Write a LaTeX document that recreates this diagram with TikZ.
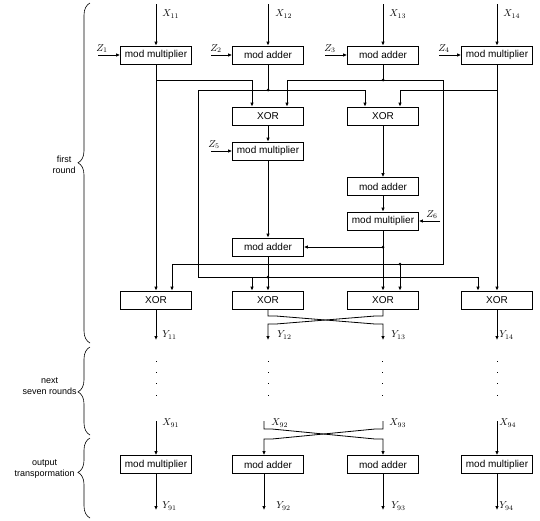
\documentclass[tikz,border=0pt]{standalone}
\usepackage{fontspec}
\newfontfamily\boxfont{Liberation Sans}
\usetikzlibrary{arrows.meta,decorations.pathreplacing}
\begin{document}
\begin{tikzpicture}[x=1pt,y=-1pt,line width=0.8pt,
  blk/.style={draw,minimum width=71pt,minimum height=18pt,inner sep=0pt,font=\boxfont\fontsize{10}{11}\selectfont},
  ar/.style={-{Latex[length=4pt,width=3.6pt]}},
  lab/.style={inner sep=0pt,anchor=west,font=\fontsize{10}{12}\selectfont},
  zlab/.style={inner sep=0pt,anchor=south west,font=\fontsize{10}{12}\selectfont},
  jdot/.style={circle,fill,inner sep=0pt,minimum size=3pt},
  side/.style={align=center,anchor=east,font=\boxfont\fontsize{9}{11}\selectfont,inner sep=0pt}]
\useasboundingbox (0,0) rectangle (540,520);

% ---------- round 1 boxes
\node[blk] (m1) at (156,55) {mod multiplier};
\node[blk] (a2) at (268,55) {mod adder};
\node[blk] (a3) at (383,55) {mod adder};
\node[blk] (m4) at (497,55) {mod multiplier};
\node[blk] (xa) at (268,116) {XOR};
\node[blk] (xb) at (383,116) {XOR};
\node[blk] (m5) at (268,151) {mod multiplier};
\node[blk] (ad) at (383,186.5) {mod adder};
\node[blk] (m6) at (383,221) {mod multiplier};
\node[blk] (a10) at (268,247) {mod adder};
\node[blk] (o1) at (156,300) {XOR};
\node[blk] (o2) at (268,300) {XOR};
\node[blk] (o3) at (383,300) {XOR};
\node[blk] (o4) at (497,300) {XOR};

% ---------- output transformation boxes
\node[blk] (f1) at (156,464.5) {mod multiplier};
\node[blk] (f2) at (268,464.5) {mod adder};
\node[blk] (f3) at (383,464.5) {mod adder};
\node[blk] (f4) at (497,464.5) {mod multiplier};

% ---------- inputs
\coordinate (in1) at (156,4);
\coordinate (in2) at (268,4);
\coordinate (in3) at (383,4);
\coordinate (in4) at (497,4);
\draw[ar] (in1) -- (m1);
\draw[ar] (in2) -- (a2);
\draw[ar] (in3) -- (a3);
\draw[ar] (in4) -- (m4);
\node[lab] (X11) at (162,14) {$X_{11}$};
\node[lab] (X12) at (275,14) {$X_{12}$};
\node[lab] (X13) at (389,14) {$X_{13}$};
\node[lab] (X14) at (503,14) {$X_{14}$};

% ---------- keys
\coordinate (z1) at (98,55);
\coordinate (z2) at (211,55);
\coordinate (z3) at (325,55);
\coordinate (z4) at (439,55);
\coordinate (z5) at (211,151);
\coordinate (z6) at (440,221);
\draw[ar] (z1) -- (m1);
\draw[ar] (z2) -- (a2);
\draw[ar] (z3) -- (a3);
\draw[ar] (z4) -- (m4);
\draw[ar] (z5) -- (m5);
\draw[ar] (z6) -- (m6);
\node[zlab] (Z1) at (96,53) {$Z_{1}$};
\node[zlab] (Z2) at (210,53) {$Z_{2}$};
\node[zlab] (Z3) at (324,53) {$Z_{3}$};
\node[zlab] (Z4) at (438,53) {$Z_{4}$};
\node[zlab] (Z5) at (208,149) {$Z_{5}$};
\node[zlab] (Z6) at (426,219) {$Z_{6}$};

% ---------- M1 output
\coordinate (p1) at (156,80);
\coordinate (p2) at (252,80);
\draw[ar] (m1) -- (o1);
\draw[ar] (p1) -- (p2) -- (p2 |- xa.north);

% ---------- A3 output
\coordinate (q0) at (383,80);
\coordinate (q1) at (287,80);
\coordinate (q2) at (443,80);
\coordinate (q3) at (443,264);
\coordinate (q4) at (172,264);
\coordinate (q5) at (400,264);
\draw (a3) -- (q0);
\draw[ar] (q2) -- (q1) -- (q1 |- xa.north);
\draw[ar] (q2) -- (q3) -- (q4) -- (q4 |- o1.north);
\draw[ar] (q5) -- (q5 |- o3.north);
\node[jdot] at (q0) {};
\node[jdot] at (q5) {};

% ---------- A2 output
\coordinate (r0) at (268,90);
\coordinate (r1) at (198,90);
\coordinate (r2) at (365,90);
\coordinate (r3) at (198,277);
\coordinate (r4) at (478,277);
\coordinate (r5) at (252,277);
\coordinate (r6) at (268,277);
\draw (a2) -- (r0);
\draw[ar] (r1) -- (r2) -- (r2 |- xb.north);
\draw[ar] (r1) -- (r3) -- (r4) -- (r4 |- o4.north);
\draw[ar] (r5) -- (r5 |- o2.north);
\node[jdot] at (r0) {};
\node[jdot] at (r6) {};

% ---------- M4 output
\coordinate (s1) at (497,90);
\coordinate (s2) at (400,90);
\draw[ar] (m4) -- (o4);
\draw[ar] (s1) -- (s2) -- (s2 |- xb.north);

% ---------- middle
\draw[ar] (xa) -- (m5);
\draw[ar] (m5) -- (a10);
\draw[ar] (a10) -- (o2);
\draw[ar] (xb) -- (ad);
\draw[ar] (ad) -- (m6);
\draw[ar] (m6) -- (o3);
\coordinate (t1) at (383,247);
\draw[ar] (t1) -- (a10.east);
\node[jdot] at (t1) {};

% ---------- round 1 outputs
\coordinate (y1) at (156,340);
\coordinate (y2) at (268,340);
\coordinate (y3) at (383,340);
\coordinate (y4) at (497,340);
\coordinate (u1) at (268,316);
\coordinate (u2) at (276,316);
\coordinate (u3) at (375,324);
\coordinate (u4) at (383,324);
\coordinate (v1) at (383,316);
\coordinate (v2) at (375,316);
\coordinate (v3) at (276,324);
\coordinate (v4) at (268,324);
\draw[ar] (o1) -- (y1);
\draw[ar] (o4) -- (y4);
\draw[ar] (o2.south) -- (u1) -- (u2) -- (u3) -- (u4) -- (y3);
\draw[ar] (o3.south) -- (v1) -- (v2) -- (v3) -- (v4) -- (y2);
\node[lab] (Y11) at (162,335) {$Y_{11}$};
\node[lab] (Y12) at (277,335) {$Y_{12}$};
\node[lab] (Y13) at (391,335) {$Y_{13}$};
\node[lab] (Y14) at (499,335) {$Y_{14}$};

% ---------- vertical dots
\foreach \x in {156,268,382,497}
  \foreach \y in {361,372,383,395}
    \fill (\x-0.5,\y-0.5) rectangle (\x+0.5,\y+0.5);

% ---------- output transformation
\coordinate (w1) at (156,421);
\coordinate (w2) at (264,421);
\coordinate (w3) at (383,421);
\coordinate (w4) at (497,421);
\coordinate (g1) at (264,429);
\coordinate (g2) at (272,429);
\coordinate (g3) at (375,439);
\coordinate (g4) at (383,439);
\coordinate (h1) at (383,429);
\coordinate (h2) at (375,429);
\coordinate (h3) at (272,439);
\coordinate (h4) at (264,439);
\draw[ar] (w1) -- (f1);
\draw[ar] (w4) -- (f4);
\draw[ar] (w2) -- (g1) -- (g2) -- (g3) -- (g4) -- (g4 |- f3.north);
\draw[ar] (w3) -- (h1) -- (h2) -- (h3) -- (h4) -- (h4 |- f2.north);
\coordinate (e1) at (156,510);
\coordinate (e2) at (264,510);
\coordinate (e3) at (383,510);
\coordinate (e4) at (497,510);
\draw[ar] (f1) -- (e1);
\draw[ar] (e2 |- f2.south) -- (e2);
\draw[ar] (f3) -- (e3);
\draw[ar] (f4) -- (e4);
\node[lab] (X91) at (162,423) {$X_{91}$};
\node[lab] (X92) at (271,423) {$X_{92}$};
\node[lab] (X93) at (389,423) {$X_{93}$};
\node[lab] (X94) at (499,423) {$X_{94}$};
\node[lab] (Y91) at (162,506) {$Y_{91}$};
\node[lab] (Y92) at (276,506) {$Y_{92}$};
\node[lab] (Y93) at (391,506) {$Y_{93}$};
\node[lab] (Y94) at (499,506) {$Y_{94}$};

% ---------- braces
\draw[line width=0.6pt,decorate,decoration={brace,amplitude=12pt,aspect=0.53}] (90,343) -- (90,3);
\draw[line width=0.6pt,decorate,decoration={brace,amplitude=12pt,aspect=0.49}] (90,435) -- (90,347);
\draw[line width=0.6pt,decorate,decoration={brace,amplitude=12pt,aspect=0.57}] (90,518) -- (90,438);
\node[side] (L1) at (76,165) {first\\round};
\node[side] (L2) at (77,386) {next\\seven rounds};
\node[side] (L3) at (75,469) {output\\transpormation};
\end{tikzpicture}
\end{document}
